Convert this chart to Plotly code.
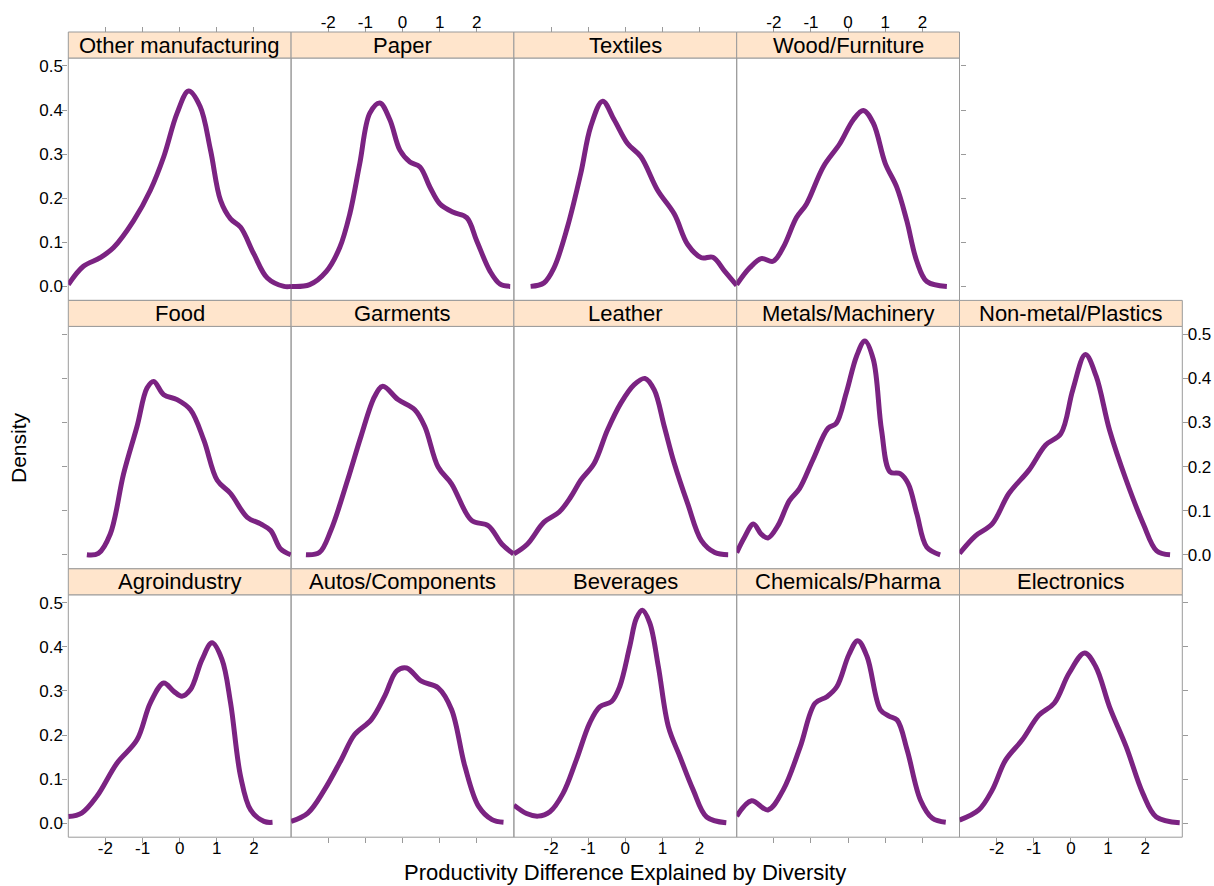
import plotly.graph_objects as go

# ---------------- data ----------------
other_x = [-3.0, -2.6, -2.14, -1.78, -1.24, -0.79, -0.43, -0.07, 0.24, 0.55, 0.83, 1.10, 1.37, 1.64, 2.0, 2.36, 2.81, 3.0]
other_y = [0.004, 0.045, 0.065, 0.088, 0.149, 0.218, 0.294, 0.393, 0.443, 0.408, 0.309, 0.195, 0.153, 0.134, 0.073, 0.019, 0.0, 0.0]

paper_x = [-3.0, -2.5, -2.05, -1.69, -1.42, -1.15, -0.88, -0.61, -0.34, -0.07, 0.2, 0.47, 0.74, 1.01, 1.37, 1.73, 2.0, 2.36, 2.63, 2.9]
paper_y = [0.0, 0.004, 0.034, 0.088, 0.164, 0.279, 0.393, 0.416, 0.378, 0.309, 0.282, 0.271, 0.225, 0.187, 0.168, 0.156, 0.103, 0.034, 0.005, 0.0]

textiles_x = [-2.55, -2.19, -1.92, -1.56, -1.2, -0.93, -0.61, -0.3, 0.06, 0.42, 0.87, 1.32, 1.68, 2.05, 2.36, 2.68, 3.0]
textiles_y = [0.0, 0.008, 0.042, 0.134, 0.256, 0.363, 0.420, 0.378, 0.324, 0.294, 0.218, 0.164, 0.095, 0.065, 0.066, 0.034, 0.002]

wood_x = [-3.0, -2.65, -2.34, -2.02, -1.75, -1.39, -1.12, -0.67, -0.22, 0.14, 0.41, 0.68, 1.0, 1.31, 1.58, 1.85, 2.12, 2.66]
wood_y = [0.004, 0.042, 0.063, 0.057, 0.088, 0.156, 0.187, 0.271, 0.324, 0.378, 0.399, 0.370, 0.279, 0.225, 0.149, 0.057, 0.011, 0.0]

food_x = [-2.5, -2.19, -1.87, -1.51, -1.15, -0.88, -0.70, -0.43, -0.07, 0.29, 0.65, 1.01, 1.37, 1.82, 2.18, 2.45, 2.72, 2.99]
food_y = [0.0, 0.003, 0.047, 0.184, 0.291, 0.378, 0.393, 0.363, 0.352, 0.329, 0.260, 0.169, 0.139, 0.085, 0.070, 0.055, 0.013, 0.0]

garments_x = [-2.6, -2.24, -1.93, -1.48, -1.12, -0.75, -0.53, -0.12, 0.33, 0.6, 0.96, 1.32, 1.86, 2.31, 2.68, 2.99]
garments_y = [0.0, 0.005, 0.055, 0.169, 0.268, 0.359, 0.382, 0.352, 0.329, 0.291, 0.199, 0.161, 0.078, 0.066, 0.024, 0.002]

leather_x = [-3.0, -2.64, -2.19, -1.78, -1.47, -1.2, -0.84, -0.48, -0.12, 0.24, 0.53, 0.78, 1.05, 1.32, 1.68, 2.05, 2.41, 2.77]
leather_y = [0.002, 0.024, 0.074, 0.097, 0.131, 0.169, 0.207, 0.283, 0.344, 0.386, 0.400, 0.374, 0.291, 0.207, 0.116, 0.032, 0.005, 0.0]

metals_x = [-3.0, -2.79, -2.55, -2.34, -2.16, -1.89, -1.58, -1.31, -0.95, -0.54, -0.32, -0.05, 0.23, 0.45, 0.68, 0.9, 1.13, 1.4, 1.62, 1.85, 2.12, 2.48]
metals_y = [0.005, 0.040, 0.070, 0.047, 0.038, 0.066, 0.123, 0.150, 0.215, 0.287, 0.298, 0.367, 0.451, 0.485, 0.443, 0.283, 0.188, 0.184, 0.161, 0.093, 0.017, 0.0]

nonmetal_x = [-3.0, -2.57, -2.12, -1.67, -1.13, -0.68, -0.27, 0.05, 0.39, 0.68, 1.04, 1.49, 1.95, 2.31, 2.67]
nonmetal_y = [0.003, 0.043, 0.070, 0.139, 0.192, 0.249, 0.275, 0.374, 0.454, 0.405, 0.283, 0.169, 0.070, 0.009, 0.0]

agro_x = [-3.0, -2.64, -2.23, -1.69, -1.15, -0.79, -0.43, -0.16, 0.06, 0.29, 0.6, 0.87, 1.14, 1.37, 1.64, 1.91, 2.27, 2.5]
agro_y = [0.015, 0.023, 0.061, 0.136, 0.189, 0.273, 0.318, 0.299, 0.288, 0.303, 0.371, 0.409, 0.371, 0.273, 0.106, 0.030, 0.004, 0.002]

autos_x = [-3.0, -2.55, -2.1, -1.65, -1.29, -0.84, -0.48, -0.16, 0.11, 0.51, 0.96, 1.32, 1.68, 2.05, 2.41, 2.72]
autos_y = [0.004, 0.023, 0.076, 0.144, 0.201, 0.235, 0.288, 0.345, 0.352, 0.322, 0.307, 0.258, 0.129, 0.038, 0.008, 0.002]

bev_x = [-3.0, -2.66, -2.35, -2.03, -1.68, -1.32, -0.96, -0.69, -0.37, -0.15, 0.12, 0.3, 0.46, 0.66, 0.89, 1.16, 1.47, 1.83, 2.19, 2.72]
bev_y = [0.041, 0.022, 0.016, 0.026, 0.067, 0.143, 0.227, 0.264, 0.276, 0.310, 0.401, 0.465, 0.483, 0.454, 0.355, 0.219, 0.151, 0.075, 0.014, 0.001]

chem_x = [-3.0, -2.6, -2.16, -1.75, -1.29, -0.89, -0.57, -0.3, 0.02, 0.26, 0.51, 0.87, 1.1, 1.32, 1.59, 1.95, 2.27, 2.63]
chem_y = [0.016, 0.051, 0.030, 0.075, 0.173, 0.272, 0.287, 0.310, 0.382, 0.414, 0.378, 0.257, 0.243, 0.234, 0.166, 0.052, 0.011, 0.002]

elec_x = [-3.0, -2.48, -2.12, -1.76, -1.31, -0.86, -0.45, -0.05, 0.37, 0.67, 1.04, 1.49, 1.94, 2.3, 2.93]
elec_y = [0.007, 0.030, 0.075, 0.143, 0.189, 0.245, 0.272, 0.340, 0.386, 0.355, 0.264, 0.173, 0.067, 0.014, 0.001]

x_ticks = [-2, -1, 0, 1, 2]
x_tick_labels = ["-2", "-1", "0", "1", "2"]
y_ticks = [0.0, 0.1, 0.2, 0.3, 0.4, 0.5]
y_tick_labels = ["0.0", "0.1", "0.2", "0.3", "0.4", "0.5"]

panels = [
    # (title, row, col, x, y)
    ("Other manufacturing", 0, 0, other_x, other_y),
    ("Paper", 0, 1, paper_x, paper_y),
    ("Textiles", 0, 2, textiles_x, textiles_y),
    ("Wood/Furniture", 0, 3, wood_x, wood_y),
    ("Food", 1, 0, food_x, food_y),
    ("Garments", 1, 1, garments_x, garments_y),
    ("Leather", 1, 2, leather_x, leather_y),
    ("Metals/Machinery", 1, 3, metals_x, metals_y),
    ("Non-metal/Plastics", 1, 4, nonmetal_x, nonmetal_y),
    ("Agroindustry", 2, 0, agro_x, agro_y),
    ("Autos/Components", 2, 1, autos_x, autos_y),
    ("Beverages", 2, 2, bev_x, bev_y),
    ("Chemicals/Pharma", 2, 3, chem_x, chem_y),
    ("Electronics", 2, 4, elec_x, elec_y),
]

# ---------------- layout geometry (pixels) ----------------
W, H = 1214, 886
LEFT0, PW = 68.3, 222.8
STRIP_TOP0, PITCH, STRIP_H = 32.0, 268.4, 26.0
FONT = "Liberation Sans, Arial, sans-serif"
LINE_COL = "#9a9a9a"
CURVE_COL = "#7b2382"
STRIP_FILL = "#ffe5cc"


def px(x):
    return x / W


def py(y):
    return 1 - y / H


fig = go.Figure()
shapes = []
annotations = []

for i, (title, r, c, xs, ys) in enumerate(panels):
    n = i + 1
    xa = "x" if n == 1 else f"x{n}"
    ya = "y" if n == 1 else f"y{n}"
    x0 = LEFT0 + c * PW
    x1 = x0 + PW
    s_top = STRIP_TOP0 + r * PITCH
    p_top = s_top + STRIP_H
    p_bot = s_top + PITCH

    fig.add_trace(go.Scatter(x=xs, y=ys, mode="lines", xaxis=xa, yaxis=ya,
                             line=dict(color=CURVE_COL, width=5, shape="spline", smoothing=1.0),
                             hoverinfo="skip"))

    xax = dict(domain=[px(x0), px(x1)], range=[-3, 3], showgrid=False, zeroline=False,
               showline=False, tickmode="array", tickvals=x_ticks, ticktext=x_tick_labels,
               ticks="", showticklabels=False, ticklabelstandoff=-8,
               tickfont=dict(family=FONT, size=17, color="black"),
               ticklen=5, tickcolor=LINE_COL, fixedrange=True)
    yax = dict(domain=[py(p_bot), py(p_top)], range=[-0.0318, 0.518], showgrid=False,
               zeroline=False, showline=False, tickmode="array", tickvals=y_ticks,
               ticktext=y_tick_labels, ticks="", showticklabels=False, ticklabelstandoff=-4,
               tickfont=dict(family=FONT, size=17, color="black"),
               ticklen=5, tickcolor=LINE_COL, fixedrange=True)

    if r == 0:
        xax.update(anchor="free", position=py(s_top), side="top", ticks="outside",
                   showticklabels=(c in (1, 3)))
        yax.update(anchor=xa)
    elif r == 2:
        xax.update(anchor=ya, side="bottom", ticks="outside", showticklabels=(c in (0, 2, 4)),
                   ticklabelstandoff=-10)
        yax.update(anchor=xa)
    else:
        xax.update(anchor=ya)
        yax.update(anchor=xa)

    if r == 0 and c == 0:
        yax.update(side="left", ticks="outside", showticklabels=True)
    if r == 0 and c == 3:
        yax.update(side="right", ticks="outside", showticklabels=False)
    if r == 1 and c == 0:
        yax.update(side="left", ticks="outside", showticklabels=False)
    if r == 1 and c == 4:
        yax.update(side="right", ticks="outside", showticklabels=True)
    if r == 2 and c == 0:
        yax.update(side="left", ticks="outside", showticklabels=True)
    if r == 2 and c == 4:
        yax.update(side="right", ticks="outside", showticklabels=False)

    fig.update_layout({("xaxis" if n == 1 else f"xaxis{n}"): xax,
                       ("yaxis" if n == 1 else f"yaxis{n}"): yax})

    # panel border
    shapes.append(dict(type="rect", xref="paper", yref="paper",
                       x0=px(x0), x1=px(x1), y0=py(p_bot), y1=py(p_top),
                       line=dict(color=LINE_COL, width=1), fillcolor="rgba(0,0,0,0)", layer="below"))
    # strip
    shapes.append(dict(type="rect", xref="paper", yref="paper",
                       x0=px(x0), x1=px(x1), y0=py(p_top), y1=py(s_top),
                       line=dict(color=LINE_COL, width=1), fillcolor=STRIP_FILL, layer="below"))
    annotations.append(dict(text=title, xref="paper", yref="paper",
                            x=px((x0 + x1) / 2), y=py(s_top + STRIP_H / 2),
                            xanchor="center", yanchor="middle", showarrow=False,
                            font=dict(family=FONT, size=22, color="black")))

annotations.append(dict(text="Density", xref="paper", yref="paper", x=px(18), y=py(448),
                        xanchor="center", yanchor="middle", textangle=-90, showarrow=False,
                        font=dict(family=FONT, size=21, color="black")))
annotations.append(dict(text="Productivity Difference Explained by Diversity", xref="paper",
                        yref="paper", x=px(625), y=py(872), xanchor="center", yanchor="middle",
                        showarrow=False, font=dict(family=FONT, size=22, color="black")))

fig.update_layout(width=W, height=H, margin=dict(l=0, r=0, t=0, b=0, pad=0),
                  paper_bgcolor="white", plot_bgcolor="rgba(0,0,0,0)", showlegend=False,
                  shapes=shapes, annotations=annotations,
                  font=dict(family=FONT, size=17, color="black"))

fig.write_html("out.html", config={"displayModeBar": False, "staticPlot": True},
               post_script="document.body.style.margin='0';document.body.style.overflow='hidden';")
